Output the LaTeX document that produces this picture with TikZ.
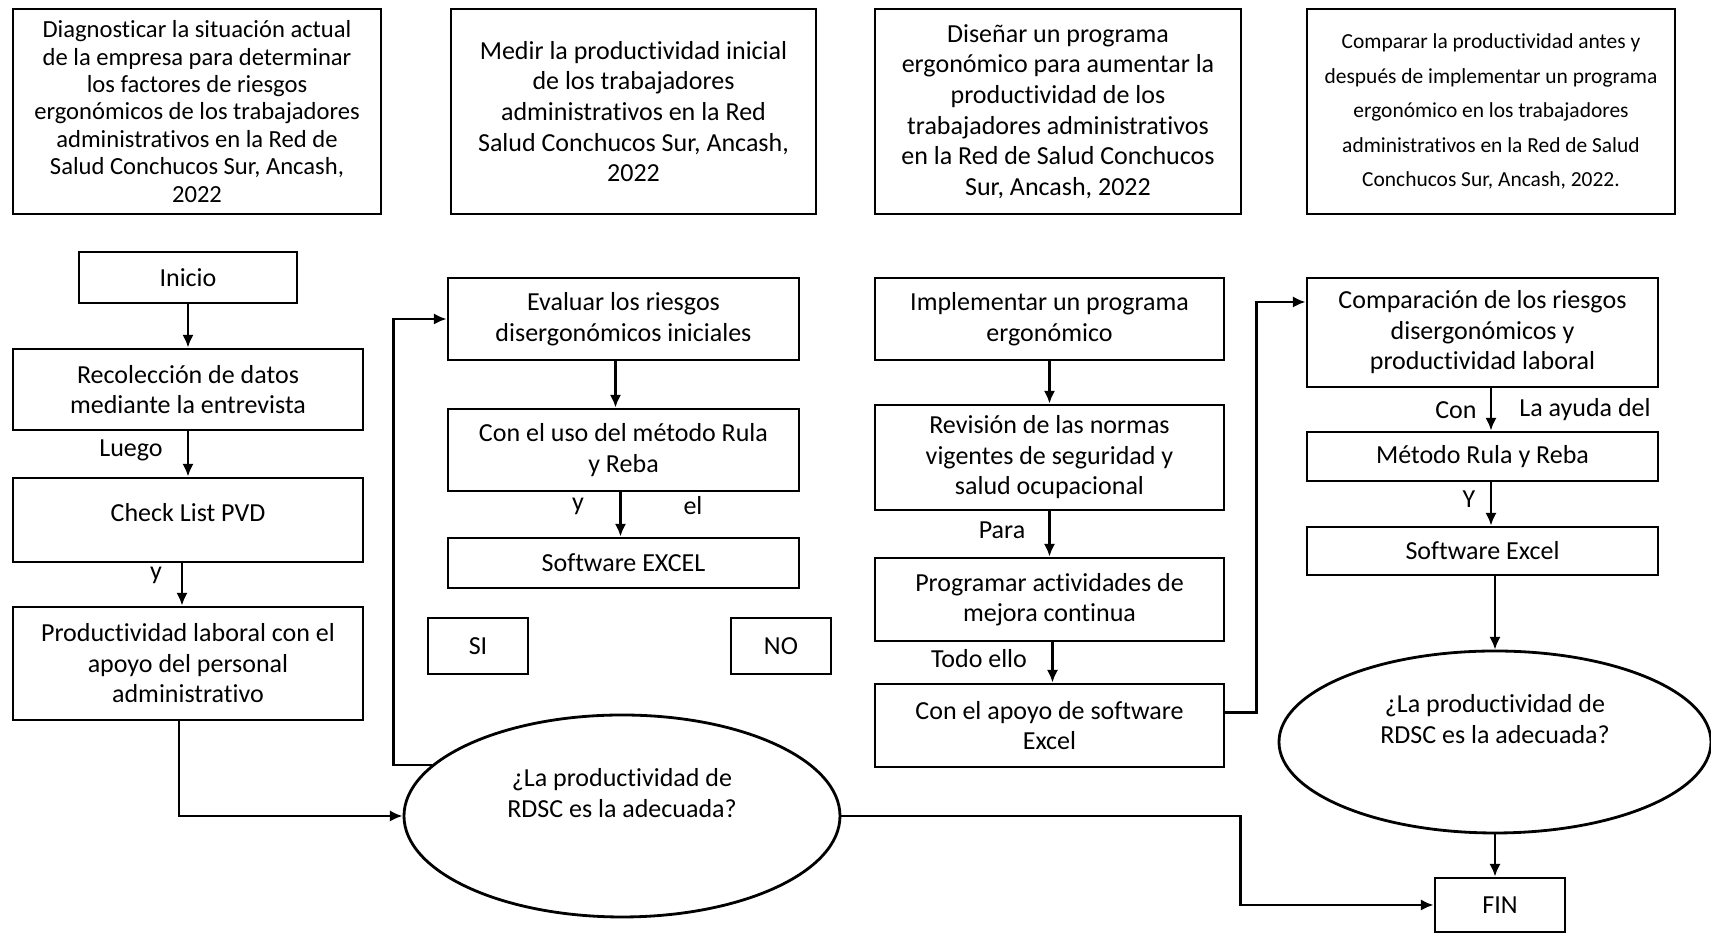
\documentclass[tikz,border=0pt]{standalone}
\usepackage{fontspec}
\setmainfont{Carlito}[Ligatures=NoCommon]
\usetikzlibrary{arrows.meta, positioning, calc, shapes.geometric}
\newcommand{\flowfont}{\fontsize{7.4}{8.7}\selectfont}
\newcommand{\objfont}{\fontsize{7.0}{7.8}\selectfont}
\newcommand{\objsmallfont}{\fontsize{6.1}{9.8}\selectfont}
\tikzset{
  stage/.style={draw, line width=0.8pt, align=center, inner sep=0pt, font=\flowfont},
  question/.style={stage, ellipse},
  link/.style={line width=0.8pt, -{Latex[length=3.6pt,width=3.2pt]}},
  note/.style={font=\flowfont, inner sep=0pt},
}

\begin{document}
\begin{tikzpicture}[x=1mm, y=-1mm]
  \useasboundingbox (0,0) rectangle (171.1,93.4);
  % objetivos
  \node[stage, minimum width=36.8mm, minimum height=20.5mm, font=\objfont] (obj1) at (19.7,11.15)
    {Diagnosticar la situación actual\\de la empresa para determinar\\los factores de riesgos\\ergonómicos de los trabajadores\\administrativos en la Red de\\Salud Conchucos Sur, Ancash,\\2022};
  \node[stage, minimum width=36.5mm, minimum height=20.5mm] (obj2) at (63.35,11.15)
    {Medir la productividad inicial\\de los trabajadores\\administrativos en la Red\\Salud Conchucos Sur, Ancash,\\2022};
  \node[stage, minimum width=36.6mm, minimum height=20.5mm] (obj3) at (105.8,11.15)
    {Diseñar un programa\\ergonómico para aumentar la\\productividad de los\\trabajadores administrativos\\en la Red de Salud Conchucos\\Sur, Ancash, 2022};
  \node[stage, minimum width=36.8mm, minimum height=20.5mm, font=\objsmallfont] (obj4) at (149.1,11.15)
    {Comparar la productividad antes y\\después de implementar un programa\\ergonómico en los trabajadores\\administrativos en la Red de Salud\\Conchucos Sur, Ancash, 2022.};

  % columna 1
  \node[stage, minimum width=21.8mm, minimum height=5.1mm] (inicio) at (18.8,27.75) {Inicio};
  \node[stage, minimum width=35mm, minimum height=8.1mm] (recol) at (18.8,38.95)
    {Recolección de datos\\mediante la entrevista};
  \node[stage, minimum width=35mm, minimum height=8.4mm] (check) at (18.8,52) {Check List PVD\\[-1.5mm]\mbox{}};
  \node[stage, minimum width=35mm, minimum height=11.3mm] (prod) at (18.8,66.35)
    {Productividad laboral con el\\apoyo del personal\\administrativo};

  % columna 2
  \node[stage, minimum width=35.1mm, minimum height=8.2mm] (eval) at (62.35,31.9)
    {Evaluar los riesgos\\disergonómicos iniciales};
  \node[stage, minimum width=35.1mm, minimum height=8.2mm] (uso) at (62.35,45)
    {Con el uso del método Rula\\y Reba};
  \node[stage, minimum width=35.1mm, minimum height=5mm] (excel1) at (62.35,56.3) {Software EXCEL};
  \node[stage, minimum width=10mm, minimum height=5.6mm] (si) at (47.8,64.6) {SI};
  \node[stage, minimum width=10mm, minimum height=5.6mm] (no) at (78.1,64.6) {NO};
  \node[question, minimum width=43.6mm, minimum height=20.2mm] (q1) at (62.2,81.6)
    {¿La productividad de\\RDSC es la adecuada?\\[1.5mm]\mbox{}};

  % columna 3
  \node[stage, minimum width=34.9mm, minimum height=8.2mm] (impl) at (104.95,31.9)
    {Implementar un programa\\ergonómico};
  \node[stage, minimum width=34.9mm, minimum height=10.5mm] (rev) at (104.95,45.75)
    {Revisión de las normas\\vigentes de seguridad y\\salud ocupacional};
  \node[stage, minimum width=34.9mm, minimum height=8.3mm] (prog) at (104.95,59.95)
    {Programar actividades de\\mejora continua};
  \node[stage, minimum width=34.9mm, minimum height=8.3mm] (apoyo) at (104.95,72.55)
    {Con el apoyo de software\\Excel};

  % columna 4
  \node[stage, minimum width=35.1mm, minimum height=10.9mm] (comp) at (148.25,33.25)
    {Comparación de los riesgos\\disergonómicos y\\productividad laboral};
  \node[stage, minimum width=35.1mm, minimum height=4.9mm] (metodo) at (148.25,45.65) {Método Rula y Reba};
  \node[stage, minimum width=35.1mm, minimum height=4.8mm] (excel2) at (148.25,55.1) {Software Excel};
  \node[question, minimum width=43.2mm, minimum height=18.2mm] (q2) at (149.5,74.2)
    {¿La productividad de\\RDSC es la adecuada?\\[1.5mm]\mbox{}};
  \node[stage, minimum width=13mm, minimum height=5.4mm] (fin) at (150,90.5) {FIN};

  % conectores
  \draw[link] (inicio) -- (recol);
  \draw[link] (recol) -- (check);
  \draw[link] ($(check.south)+(-0.6,0)$) -- ($(prod.north)+(-0.6,0)$);
  \draw[link] ($(prod.south)+(-0.9,0)$) |- (q1.west);
  \draw[link] (q1.165) -- ++(-3.8,0) |- (eval.west);
  \draw[link] ($(eval.south)+(-0.8,0)$) -- ($(uso.north)+(-0.8,0)$);
  \draw[link] ($(uso.south)+(-0.3,0)$) -- ($(excel1.north)+(-0.3,0)$);
  \draw[link] (q1.east) -- ++(39.9,0) |- (fin.west);
  \draw[link] (impl) -- (rev);
  \draw[link] (rev) -- (prog);
  \draw[link] ($(prog.south)+(0.3,0)$) -- ($(apoyo.north)+(0.3,0)$);
  \draw[link] ($(apoyo.east)+(0,-1.3)$) -- ++(3.1,0) |- ($(comp.west)+(0,-3.05)$);
  \draw[link] ($(comp.south)+(0.85,0)$) -- ($(metodo.north)+(0.85,0)$);
  \draw[link] ($(metodo.south)+(0.85,0)$) -- ($(excel2.north)+(0.85,0)$);
  \draw[link] (excel2.south -| q2.north) -- (q2.north);
  \draw[link] (q2.south) -- (q2.south |- fin.north);

  % etiquetas
  \node[note] (luego) at (13.1,45) {Luego};
  \node[note] (ya) at (15.6,57.5) {y};
  \node[note] (yb) at (57.8,50.6) {y};
  \node[note] (el) at (69.3,50.6) {el};
  \node[note] (para) at (100.2,53) {Para};
  \node[note] (todo) at (97.9,65.9) {Todo ello};
  \node[note] (con) at (145.6,41) {Con};
  \node[note] (ayuda) at (158.5,41) {La ayuda del};
  \node[note] (yc) at (146.9,49.9) {Y};
\end{tikzpicture}
\end{document}
